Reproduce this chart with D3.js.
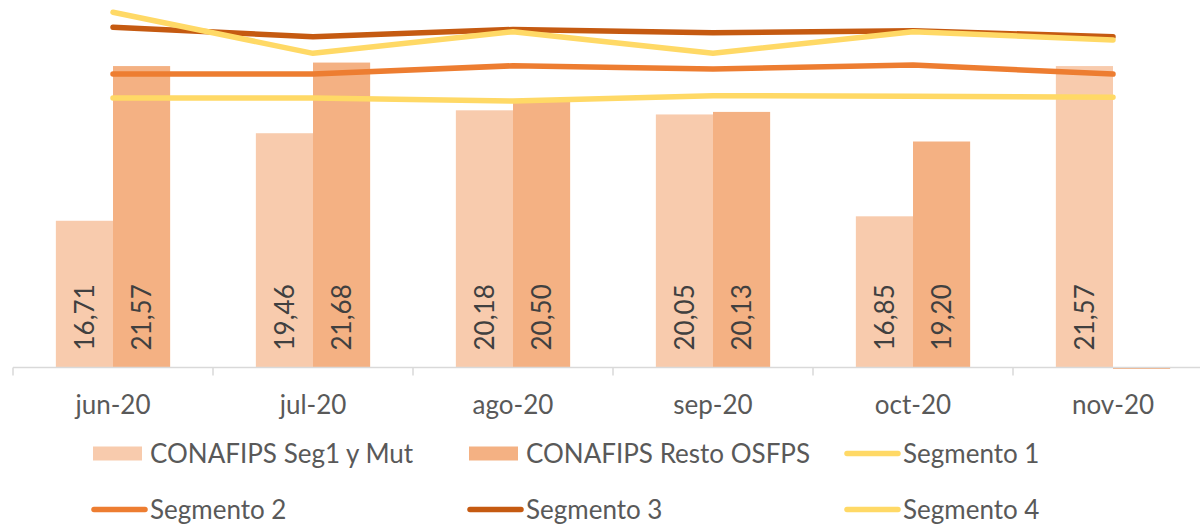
<!DOCTYPE html>
<html>
<head>
<meta charset="utf-8">
<script src="https://cdn.jsdelivr.net/npm/d3@7"></script>
<style>
  body { margin: 0; background: #fff; }
  svg text { font-family: Lato, "Open Sans", sans-serif; }
</style>
</head>
<body>
<svg id="chart" width="1200" height="524"></svg>
<script>
// ---------- data ----------
const months = ["jun-20", "jul-20", "ago-20", "sep-20", "oct-20", "nov-20"];
const barSeries = ["CONAFIPS Seg1 y Mut", "CONAFIPS Resto OSFPS"];
const seg1Mut = [16.71, 19.46, 20.18, 20.05, 16.85, 21.57];
const restoOsfps = [21.57, 21.68, 20.50, 20.13, 19.20, 0];
const segmento1 = [23.26, 21.97, 22.65, 21.97, 22.65, 22.39];
const segmento2 = [21.32, 21.32, 21.58, 21.48, 21.60, 21.32];
const segmento3 = [22.79, 22.49, 22.72, 22.62, 22.68, 22.49];
const segmento4 = [20.57, 20.57, 20.47, 20.64, 20.62, 20.59];

const barColors = ["#F8CBAD", "#F4B183"];
const lineSeries = [
  { name: "Segmento 4", values: segmento4, color: "#FFD966" },
  { name: "Segmento 3", values: segmento3, color: "#C55A11" },
  { name: "Segmento 2", values: segmento2, color: "#ED7D31" },
  { name: "Segmento 1", values: segmento1, color: "#FFD966" }
];

// ---------- scales ----------
const svg = d3.select("#chart");
const baseY = 367.5;
const yMin = 12.1, yMax = 24;
const y = d3.scaleLinear().domain([yMin, yMax]).range([baseY, baseY - (yMax - yMin) * 31.83]);

const x = d3.scaleBand().domain(months).range([13, 1213]).padding(0);
const xIn = d3.scaleBand().domain(barSeries).range([0, x.bandwidth()]).paddingOuter(0.75).paddingInner(0);

// ---------- bars ----------
const barData = [];
months.forEach((m, i) => {
  barData.push({ m, s: barSeries[0], v: seg1Mut[i], c: barColors[0] });
  barData.push({ m, s: barSeries[1], v: restoOsfps[i], c: barColors[1] });
});

svg.append("g").selectAll("rect")
  .data(barData)
  .enter()
  .append("rect")
  .attr("x", d => x(d.m) + xIn(d.s))
  .attr("width", xIn.bandwidth())
  .attr("y", d => d.v > yMin ? y(d.v) : baseY)
  .attr("height", d => d.v > yMin ? baseY - y(d.v) : 1.5)
  .attr("fill", d => d.c);

// ---------- axis ----------
const axis = svg.append("g").attr("transform", `translate(0,${baseY})`);
axis.append("line")
  .attr("x1", 13).attr("x2", 1200)
  .attr("stroke", "#D9D9D9").attr("stroke-width", 1.5);
axis.selectAll(".tick")
  .data(months)
  .enter()
  .append("line")
  .attr("x1", d => x(d)).attr("x2", d => x(d))
  .attr("y1", 0).attr("y2", 8)
  .attr("stroke", "#D9D9D9").attr("stroke-width", 1.5);
axis.selectAll("text")
  .data(months)
  .enter()
  .append("text")
  .attr("x", d => x(d) + x.bandwidth() / 2)
  .attr("y", 46)
  .attr("text-anchor", "middle")
  .attr("font-size", 26)
  .attr("fill", "#595959")
  .text(d => d);

// ---------- bar labels ----------
const fmt = v => v.toFixed(2).replace(".", ",");
svg.append("g").selectAll("text")
  .data(barData.filter(d => d.v > yMin))
  .enter()
  .append("text")
  .attr("transform", d => `translate(${x(d.m) + xIn(d.s) + xIn.bandwidth() / 2},${baseY - 17}) rotate(-90)`)
  .attr("dy", "0.36em")
  .attr("font-size", 26)
  .attr("fill", "#404040")
  .text(d => fmt(d.v));

// ---------- lines ----------
const line = d3.line()
  .x((d, i) => x(months[i]) + x.bandwidth() / 2)
  .y(d => y(d));

svg.append("g").selectAll("path")
  .data(lineSeries)
  .enter()
  .append("path")
  .attr("d", d => line(d.values))
  .attr("fill", "none")
  .attr("stroke", d => d.color)
  .attr("stroke-width", 5.5)
  .attr("stroke-linecap", "round")
  .attr("stroke-linejoin", "round");

// ---------- legend ----------
const legendItems = [
  { name: barSeries[0], type: "bar", color: barColors[0], col: 0, row: 0 },
  { name: barSeries[1], type: "bar", color: barColors[1], col: 1, row: 0 },
  { name: "Segmento 1", type: "line", color: "#FFD966", col: 2, row: 0 },
  { name: "Segmento 2", type: "line", color: "#ED7D31", col: 0, row: 1 },
  { name: "Segmento 3", type: "line", color: "#C55A11", col: 1, row: 1 },
  { name: "Segmento 4", type: "line", color: "#FFD966", col: 2, row: 1 }
];
const colX = [91, 467, 844];
const rowY = [453.5, 509.5];

const leg = svg.append("g").selectAll("g")
  .data(legendItems)
  .enter()
  .append("g")
  .attr("transform", d => `translate(${colX[d.col]},${rowY[d.row]})`);

leg.filter(d => d.type === "bar")
  .append("rect")
  .attr("x", 2).attr("y", -7)
  .attr("width", 49).attr("height", 14)
  .attr("fill", d => d.color);

leg.filter(d => d.type === "line")
  .append("line")
  .attr("x1", 3).attr("x2", 54)
  .attr("stroke", d => d.color)
  .attr("stroke-width", 5.5)
  .attr("stroke-linecap", "round");

leg.append("text")
  .attr("x", 59)
  .attr("y", 9)
  .attr("font-size", 26)
  .attr("fill", "#595959")
  .text(d => d.name);
</script>
</body>
</html>
